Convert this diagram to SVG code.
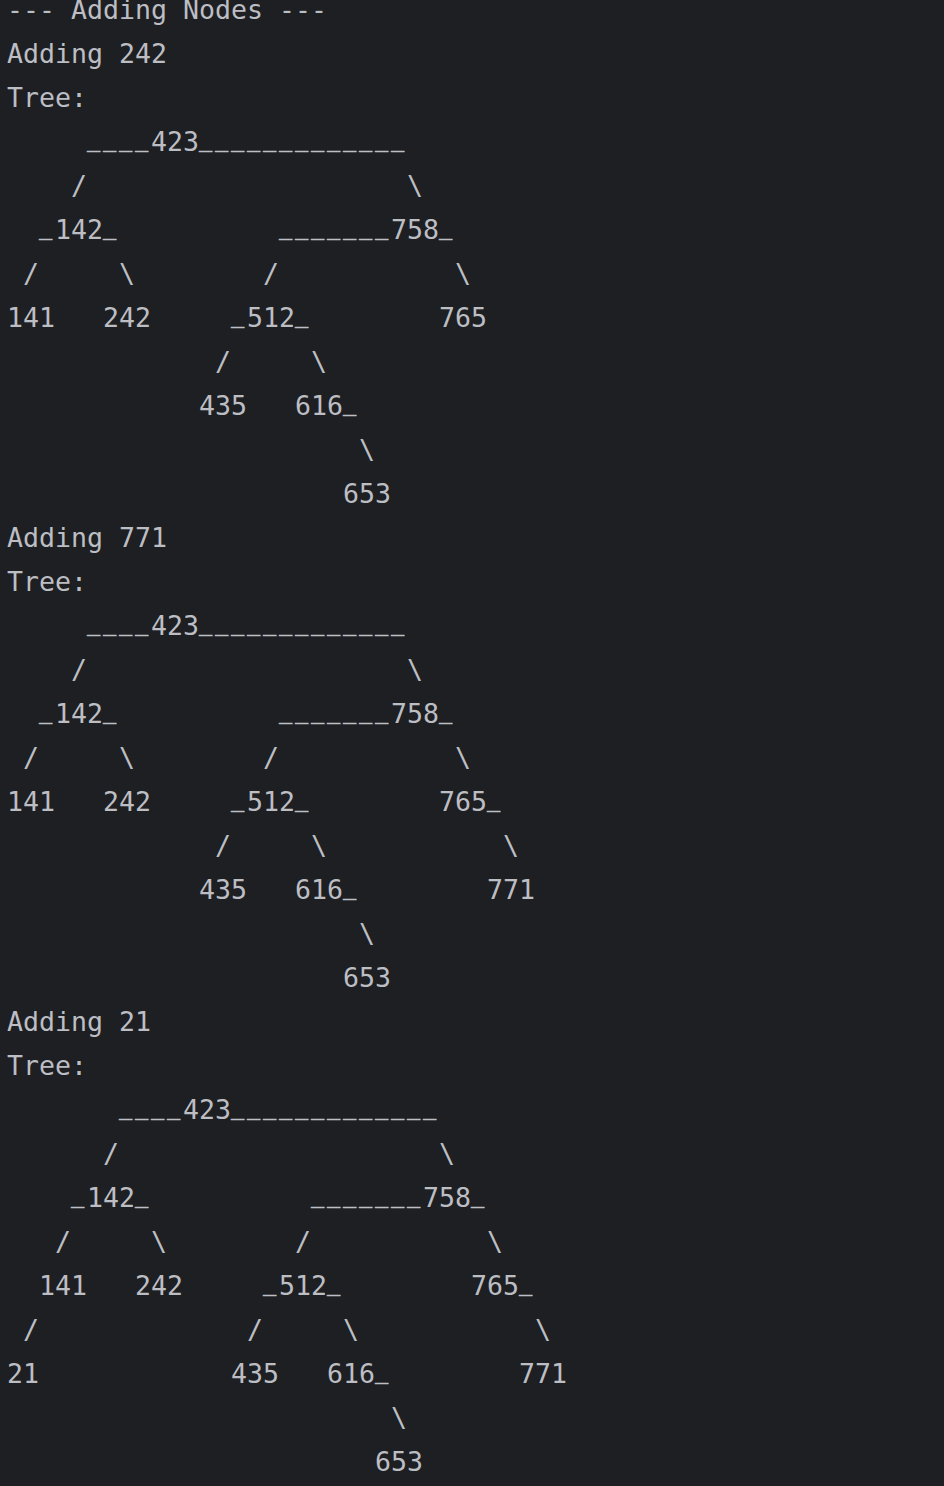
<svg xmlns="http://www.w3.org/2000/svg" width="944" height="1486" viewBox="0 0 944 1486" xml:space="preserve">
<style>
.t{font-family:"DejaVu Sans Mono","Liberation Mono",monospace;font-size:26.58px;fill:#bcbec4;white-space:pre}
.u{font-size:22px;letter-spacing:2.756px;stroke:#bcbec4;stroke-width:0.5px}
</style>
<rect width="944" height="1486" fill="#1e1f22"/>
<g id="log1">
<text class="t" x="7" y="18.7">--- Adding Nodes ---</text>
<text class="t" x="7" y="62.7">Adding 242</text>
<text class="t" x="7" y="106.7">Tree:</text>
</g>
<g id="tree1">
<text class="t" x="7" y="150.7">     <tspan class="u" dy="-3.5">____</tspan><tspan dy="3.5">423</tspan><tspan class="u" dy="-3.5">_____________</tspan></text>
<text class="t" x="7" y="194.7">    /                    \</text>
<text class="t" x="7" y="238.7">  <tspan class="u" dy="-3.5">_</tspan><tspan dy="3.5">142</tspan><tspan class="u" dy="-3.5">_</tspan><tspan dy="3.5">          </tspan><tspan class="u" dy="-3.5">_______</tspan><tspan dy="3.5">758</tspan><tspan class="u" dy="-3.5">_</tspan></text>
<text class="t" x="7" y="282.7"> /     \        /           \</text>
<text class="t" x="7" y="326.7">141   242     <tspan class="u" dy="-3.5">_</tspan><tspan dy="3.5">512</tspan><tspan class="u" dy="-3.5">_</tspan><tspan dy="3.5">        765</tspan></text>
<text class="t" x="7" y="370.7">             /     \</text>
<text class="t" x="7" y="414.7">            435   616<tspan class="u" dy="-3.5">_</tspan></text>
<text class="t" x="7" y="458.7">                      \</text>
<text class="t" x="7" y="502.7">                     653</text>
</g>
<g id="log2">
<text class="t" x="7" y="546.7">Adding 771</text>
<text class="t" x="7" y="590.7">Tree:</text>
</g>
<g id="tree2">
<text class="t" x="7" y="634.7">     <tspan class="u" dy="-3.5">____</tspan><tspan dy="3.5">423</tspan><tspan class="u" dy="-3.5">_____________</tspan></text>
<text class="t" x="7" y="678.7">    /                    \</text>
<text class="t" x="7" y="722.7">  <tspan class="u" dy="-3.5">_</tspan><tspan dy="3.5">142</tspan><tspan class="u" dy="-3.5">_</tspan><tspan dy="3.5">          </tspan><tspan class="u" dy="-3.5">_______</tspan><tspan dy="3.5">758</tspan><tspan class="u" dy="-3.5">_</tspan></text>
<text class="t" x="7" y="766.7"> /     \        /           \</text>
<text class="t" x="7" y="810.7">141   242     <tspan class="u" dy="-3.5">_</tspan><tspan dy="3.5">512</tspan><tspan class="u" dy="-3.5">_</tspan><tspan dy="3.5">        765</tspan><tspan class="u" dy="-3.5">_</tspan></text>
<text class="t" x="7" y="854.7">             /     \           \</text>
<text class="t" x="7" y="898.7">            435   616<tspan class="u" dy="-3.5">_</tspan><tspan dy="3.5">        771</tspan></text>
<text class="t" x="7" y="942.7">                      \</text>
<text class="t" x="7" y="986.7">                     653</text>
</g>
<g id="log3">
<text class="t" x="7" y="1030.7">Adding 21</text>
<text class="t" x="7" y="1074.7">Tree:</text>
</g>
<g id="tree3">
<text class="t" x="7" y="1118.7">       <tspan class="u" dy="-3.5">____</tspan><tspan dy="3.5">423</tspan><tspan class="u" dy="-3.5">_____________</tspan></text>
<text class="t" x="7" y="1162.7">      /                    \</text>
<text class="t" x="7" y="1206.7">    <tspan class="u" dy="-3.5">_</tspan><tspan dy="3.5">142</tspan><tspan class="u" dy="-3.5">_</tspan><tspan dy="3.5">          </tspan><tspan class="u" dy="-3.5">_______</tspan><tspan dy="3.5">758</tspan><tspan class="u" dy="-3.5">_</tspan></text>
<text class="t" x="7" y="1250.7">   /     \        /           \</text>
<text class="t" x="7" y="1294.7">  141   242     <tspan class="u" dy="-3.5">_</tspan><tspan dy="3.5">512</tspan><tspan class="u" dy="-3.5">_</tspan><tspan dy="3.5">        765</tspan><tspan class="u" dy="-3.5">_</tspan></text>
<text class="t" x="7" y="1338.7"> /             /     \           \</text>
<text class="t" x="7" y="1382.7">21            435   616<tspan class="u" dy="-3.5">_</tspan><tspan dy="3.5">        771</tspan></text>
<text class="t" x="7" y="1426.7">                        \</text>
<text class="t" x="7" y="1470.7">                       653</text>
</g>
</svg>
